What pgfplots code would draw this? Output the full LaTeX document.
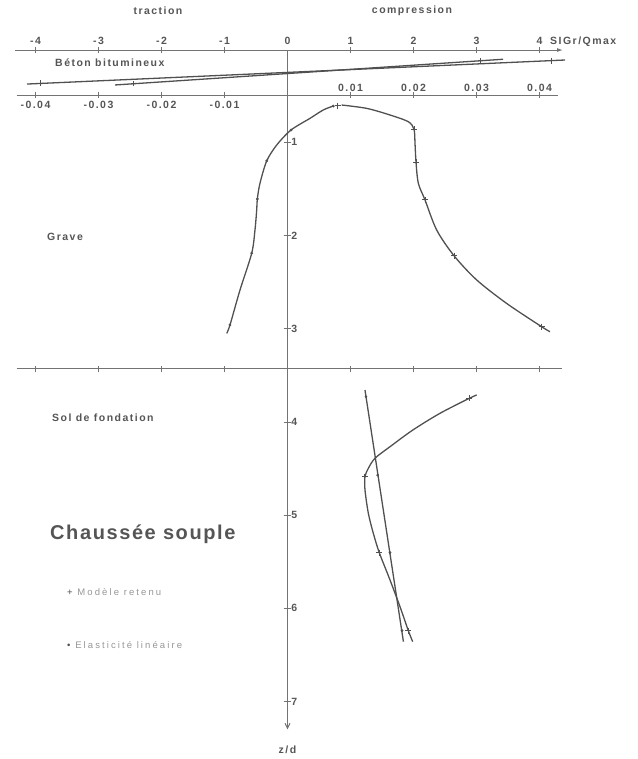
\documentclass[border=0pt]{standalone}
\usepackage{pgfplots}
\pgfplotsset{compat=1.18}
\usepackage{fontspec}
\setmainfont{Liberation Sans}
\newfontfamily\labf[LetterSpace=14]{Liberation Sans Bold}
\newfontfamily\titf[LetterSpace=8]{Liberation Sans Bold}
\newfontfamily\legf[LetterSpace=22]{Liberation Sans}
\usetikzlibrary{arrows.meta}
\definecolor{linecol}{RGB}{80,80,80}
\definecolor{axcol}{RGB}{115,115,115}
\definecolor{textcol}{RGB}{85,85,85}
\definecolor{legcol}{RGB}{150,150,150}
\newcommand{\lab}{\labf\fontsize{10.5}{12}\selectfont\color{textcol}}
\begin{document}
\begin{tikzpicture}
\begin{axis}[width=638pt,height=759pt,scale only axis,
  xmin=-4.5635,xmax=5.5635,ymin=-0.5268,ymax=7.6170,y dir=reverse,
  hide axis, clip=false]
% bounding box
\addplot[draw=none] coordinates {(-4.5635,-0.5268) (5.5635,7.6170)};
% --- axes ---
\draw[axcol,line width=1pt,-{Latex[length=6pt,width=4pt]}] (axis cs:-4.325,0.01) -- (axis cs:4.373,0.01);
\draw[axcol,line width=0.9pt] (axis cs:-4.30,0.4925) -- (axis cs:4.30,0.4925);
\draw[axcol,line width=1pt] (axis cs:-4.30,3.430) -- (axis cs:4.35,3.430);
\draw[axcol,line width=1pt,-{Straight Barb[length=5pt,width=5pt]}] (axis cs:0,0.01) -- (axis cs:0,7.30);
\pgfplotsinvokeforeach{-4,-3,-2,-1,1,2,3,4}{
  \draw[axcol,line width=0.8pt] (axis cs:#1,0.01) ++(0pt,-3pt) -- ++(0pt,6pt);
  \draw[axcol,line width=0.8pt] (axis cs:#1,0.4925) ++(0pt,-3pt) -- ++(0pt,6pt);
  \draw[axcol,line width=0.8pt] (axis cs:#1,3.430) ++(0pt,-3pt) -- ++(0pt,6pt);
}
\pgfplotsinvokeforeach{-4,-3,-2,-1,0,1,2,3,4}{
  \node[anchor=base,inner sep=0pt] at (axis cs:#1,-0.05) {\lab #1};
}
\pgfplotsinvokeforeach{1,2,3,4,5,6,7}{
  \draw[axcol,line width=0.8pt] (axis cs:0,#1) ++(-4pt,0pt) -- ++(7pt,0pt);
  \node[anchor=west,inner sep=0pt] at (axis cs:0.06,#1) {\lab #1};
}
\node[anchor=base,inner sep=0pt] at (axis cs:-4,0.638) {\lab -0.04};
\node[anchor=base,inner sep=0pt] at (axis cs:-3,0.638) {\lab -0.03};
\node[anchor=base,inner sep=0pt] at (axis cs:-2,0.638) {\lab -0.02};
\node[anchor=base,inner sep=0pt] at (axis cs:-1,0.638) {\lab -0.01};
\node[anchor=base,inner sep=0pt] at (axis cs:1,0.45) {\lab 0.01};
\node[anchor=base,inner sep=0pt] at (axis cs:2,0.45) {\lab 0.02};
\node[anchor=base,inner sep=0pt] at (axis cs:3,0.45) {\lab 0.03};
\node[anchor=base,inner sep=0pt] at (axis cs:4,0.45) {\lab 0.04};
% --- texts ---
\node[inner sep=0pt] at (axis cs:-2.056,-0.409) {\lab traction};
\node[inner sep=0pt] at (axis cs:1.976,-0.409) {\lab compression};
\node[anchor=base west,inner sep=0pt] at (axis cs:4.167,-0.05) {\lab SIGr/Qmax};
\node[anchor=west,inner sep=0pt] at (axis cs:-3.69,0.149) {\lab Béton bitumineux};
\node[anchor=west,inner sep=0pt] at (axis cs:-3.817,2.016) {\lab Grave};
\node[anchor=west,inner sep=0pt] at (axis cs:-3.738,3.951) {\lab Sol de fondation};
\node[anchor=base,inner sep=0pt] at (axis cs:0,7.56) {\lab z/d};
\node[anchor=west,inner sep=0pt] at (axis cs:-3.77,5.206) {\titf\fontsize{20}{24}\selectfont\color{textcol}Chaussée souple};
\node[anchor=west,inner sep=0pt] at (axis cs:-3.50,5.822) {\legf\fontsize{9.5}{11}\selectfont\color{legcol}{\color{linecol}+} Modèle retenu};
\node[anchor=west,inner sep=0pt] at (axis cs:-3.50,6.394) {\legf\fontsize{9.5}{11}\selectfont\color{legcol}{\color{linecol}•} Elasticité linéaire};
% --- Béton bitumineux ---
\addplot[linecol,line width=1.3pt] coordinates {(-4.135,0.375) (4.405,0.117)};
\addplot[linecol,only marks,mark=|,mark size=3pt,mark options={line width=1pt}] coordinates {(-3.917,0.369) (4.194,0.124)};
\addplot[linecol,line width=1.3pt] coordinates {(-2.738,0.385) (3.421,0.109)};
\addplot[linecol,only marks,mark=+,mark size=2.5pt,mark options={line width=1pt}] coordinates {(-2.452,0.372) (3.056,0.125)};
% --- Grave: élasticité linéaire ---
\addplot[linecol,line width=1.3pt,smooth,tension=0.5] coordinates {
(-0.965,3.05) (-0.913,2.96) (-0.754,2.585) (-0.568,2.19) (-0.516,1.94) (-0.489,1.726)
(-0.479,1.608) (-0.437,1.44) (-0.33,1.20) (-0.171,1.029) (0.056,0.868) (0.357,0.743)
(0.568,0.653) (0.727,0.611)};
\addplot[linecol,only marks,mark=*,mark size=1.2pt] coordinates {
(-0.913,2.96) (-0.568,2.19) (-0.479,1.608) (-0.33,1.20) (0.056,0.868) (0.727,0.611)};
% --- Grave: modèle retenu ---
\addplot[linecol,line width=1.3pt,smooth,tension=0.5] coordinates {
(0.86,0.60) (1.257,0.636) (1.627,0.707) (1.917,0.779) (2.008,0.861) (2.024,1.011)
(2.04,1.215) (2.077,1.44) (2.183,1.619) (2.368,1.941) (2.643,2.217) (3.003,2.477)
(3.479,2.729) (4.035,2.979) (4.167,3.032)};
\addplot[linecol,only marks,mark=+,mark size=3pt,mark options={line width=1pt}] coordinates {
(0.80,0.606) (2.008,0.861) (2.04,1.215) (2.183,1.619) (2.643,2.217) (4.035,2.979)};
% --- Sol de fondation: élasticité linéaire ---
\addplot[linecol,line width=1.3pt] coordinates {(1.23,3.658) (1.84,6.358)};
\addplot[linecol,only marks,mark=*,mark size=1.2pt] coordinates {
(1.246,3.73) (1.432,4.57) (1.627,5.403) (1.818,6.24)};
% --- Sol de fondation: modèle retenu ---
\addplot[linecol,line width=1.3pt,smooth,tension=0.5] coordinates {
(3.003,3.711) (2.886,3.747) (2.42,3.908) (1.99,4.087) (1.627,4.266) (1.389,4.39)
(1.283,4.498) (1.23,4.588) (1.23,4.73) (1.283,4.98) (1.362,5.195) (1.457,5.403)
(1.627,5.696) (1.786,5.983) (1.918,6.24) (1.987,6.358)};
\addplot[linecol,only marks,mark=+,mark size=3pt,mark options={line width=1pt}] coordinates {
(2.886,3.747) (1.23,4.588) (1.457,5.403) (1.918,6.24)};
\end{axis}
\end{tikzpicture}
\end{document}
